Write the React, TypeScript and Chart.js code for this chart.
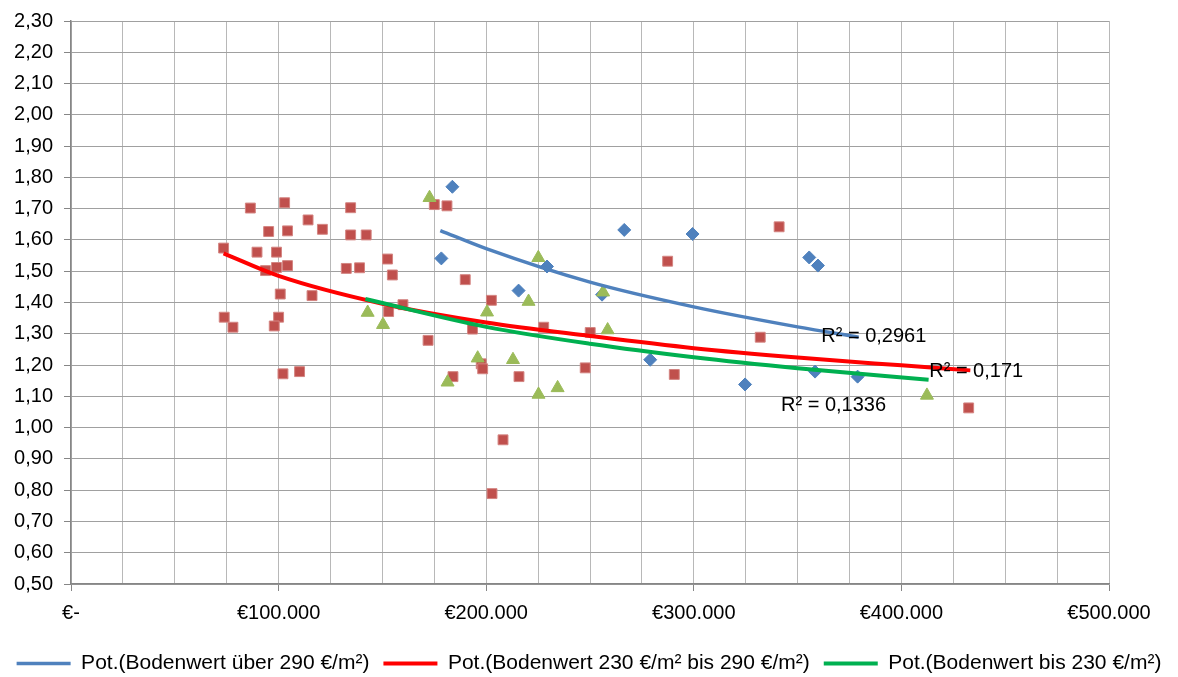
import React, { useEffect, useRef } from "react";
import { Chart, registerables } from "chart.js";

Chart.register(...registerables);

// ---- data ----
const blueX = [183700, 178400, 215600, 229300, 255800, 266500, 299400, 279000, 324700, 355600, 359800, 358400, 378900];
const blueY = [1.77, 1.541, 1.438, 1.515, 1.425, 1.632, 1.619, 1.217, 1.138, 1.544, 1.518, 1.179, 1.163];

const redX = [
  73500, 86400, 102900, 95200, 104300, 114200, 121100, 134700, 134700, 142200,
  89600, 99000, 93700, 99000, 104300, 132600, 139000, 116100, 100800, 152500,
  154800, 73800, 78000, 100000, 97900, 102100, 110100, 153000, 175000, 181100,
  189900, 202500, 159900, 172000, 193400, 184000, 215800, 208100, 202800, 227700,
  250100, 247700, 287400, 290600, 341100, 332000, 432400, 197600, 198300,
];
const redY = [
  1.574, 1.702, 1.719, 1.627, 1.629, 1.664, 1.634, 1.703, 1.616, 1.616,
  1.561, 1.561, 1.502, 1.512, 1.518, 1.509, 1.511, 1.422, 1.427, 1.539,
  1.488, 1.353, 1.321, 1.353, 1.325, 1.172, 1.179, 1.371, 1.713, 1.709,
  1.473, 1.407, 1.393, 1.279, 1.315, 1.163, 1.163, 0.961, 0.789, 1.321,
  1.304, 1.191, 1.532, 1.17, 1.642, 1.289, 1.063, 1.204, 1.188,
];

const greenX = [142900, 150300, 172700, 225100, 220400, 200400, 256300, 258500, 195900, 212900, 181400, 225200, 234400, 412300];
const greenY = [1.368, 1.329, 1.735, 1.543, 1.403, 1.369, 1.433, 1.312, 1.222, 1.217, 1.145, 1.106, 1.127, 1.103];

// trendlines (power)
const blueTrendX = [177900, 200000, 250000, 300000, 350000, 379400];
const blueTrendY = [1.63, 1.572, 1.465, 1.386, 1.322, 1.289];
const redTrendX = [73500, 100000, 150000, 200000, 250000, 300000, 350000, 400000, 433200];
const redTrendY = [1.557, 1.485, 1.396, 1.336, 1.293, 1.254, 1.224, 1.199, 1.183];
const greenTrendX = [141800, 200000, 250000, 300000, 350000, 413100];
const greenTrendY = [1.411, 1.322, 1.268, 1.225, 1.19, 1.153];

const seriesNames = [
  "Pot.(Bodenwert über 290 €/m²)",
  "Pot.(Bodenwert 230 €/m² bis 290 €/m²)",
  "Pot.(Bodenwert bis 230 €/m²)",
];

const r2Texts = ["R² = 0,2961", "R² = 0,171", "R² = 0,1336"];
const r2X = [361400, 413400, 342000];
const r2Y = [1.29, 1.181, 1.071];

const xMin = 0;
const xMax = 500000;
const xStep = 25000;
const xLabelStep = 100000;
const yMin = 0.5;
const yMax = 2.3;
const yStep = 0.1;

const zip = (xs: number[], ys: number[]) => xs.map((x, i) => ({ x, y: ys[i] }));

const fmtEuro = (v: number) => {
  if (v === 0) return "€-";
  return "€" + String(Math.round(v)).replace(/\B(?=(\d{3})+(?!\d))/g, ".");
};

const BLUE = "#4F81BD";
const RED_PT = "#C0504D";
const GREEN_PT = "#9BBB59";
const RED_LINE = "#FF0000";
const GREEN_LINE = "#00B050";
const FONT = "'Liberation Sans', Arial, sans-serif";

const r2Plugin = {
  id: "r2labels",
  afterDatasetsDraw(chart: any) {
    const { ctx, scales } = chart;
    ctx.save();
    ctx.font = `20px ${FONT}`;
    ctx.fillStyle = "#000";
    ctx.textAlign = "left";
    ctx.textBaseline = "middle";
    r2Texts.forEach((t, i) => {
      ctx.fillText(t, scales.x.getPixelForValue(r2X[i]), scales.y.getPixelForValue(r2Y[i]));
    });
    ctx.restore();
  },
};

export default function App() {
  const ref = useRef<HTMLCanvasElement | null>(null);

  useEffect(() => {
    document.body.style.margin = "0";
    if (!ref.current) return;
    Chart.defaults.font.family = FONT;
    Chart.defaults.font.size = 20;
    Chart.defaults.color = "#000";

    const trend = (label: string, xs: number[], ys: number[], color: string, w: number, order: number) => ({
      label,
      data: zip(xs, ys),
      showLine: true,
      borderColor: color,
      backgroundColor: color,
      borderWidth: w,
      pointRadius: 0,
      pointHoverRadius: 0,
      pointStyle: "line",
      cubicInterpolationMode: "monotone",
      order,
    });

    const chart = new Chart(ref.current, {
      type: "scatter",
      data: {
        datasets: [
          trend(seriesNames[0], blueTrendX, blueTrendY, BLUE, 3.5, 2) as any,
          trend(seriesNames[1], redTrendX, redTrendY, RED_LINE, 4, 1) as any,
          trend(seriesNames[2], greenTrendX, greenTrendY, GREEN_LINE, 4, 0) as any,
          {
            label: "Bodenwert über 290 €/m²",
            data: zip(blueX, blueY),
            pointStyle: "rectRot",
            pointRadius: 6.5,
            backgroundColor: BLUE,
            borderColor: BLUE,
            borderWidth: 1,
            order: 5,
          },
          {
            label: "Bodenwert 230 €/m² bis 290 €/m²",
            data: zip(redX, redY),
            pointStyle: "rect",
            pointRadius: 7,
            backgroundColor: RED_PT,
            borderColor: "#D48582",
            borderWidth: 1,
            order: 4,
          },
          {
            label: "Bodenwert bis 230 €/m²",
            data: zip(greenX, greenY),
            pointStyle: "triangle",
            pointRadius: 7.5,
            backgroundColor: GREEN_PT,
            borderColor: GREEN_PT,
            borderWidth: 1,
            order: 3,
          },
        ],
      },
      options: {
        animation: false,
        responsive: true,
        maintainAspectRatio: false,
        layout: { padding: { left: 0, right: 0, top: 16, bottom: -7 } },
        plugins: {
          tooltip: { enabled: false },
          legend: {
            position: "bottom",
            labels: {
              usePointStyle: true,
              pointStyle: "line",
              pointStyleWidth: 54,
              padding: 14,
              color: "#000",
              font: { size: 21, family: FONT },
              filter: (item: any) => item.datasetIndex < 3,
              sort: (a: any, b: any) => a.datasetIndex - b.datasetIndex,
            },
          },
        },
        scales: {
          x: {
            type: "linear",
            min: xMin,
            max: xMax,
            afterFit: (s: any) => {
              s.height = 55;
            },
            ticks: {
              stepSize: xStep,
              autoSkip: false,
              maxRotation: 0,
              padding: 10,
              color: "#000",
              font: { size: 20, family: FONT },
              callback: (v: any) => (Math.round(v) % xLabelStep === 0 ? fmtEuro(Number(v)) : ""),
            },
            grid: {
              color: "#B8B8B8",
              lineWidth: 1,
              tickLength: 7,
              tickColor: (c: any) =>
                c.tick && Math.round(c.tick.value) % xLabelStep === 0 ? "#868686" : "rgba(0,0,0,0)",
            },
            border: { color: "#868686", width: 1.5 },
          },
          y: {
            type: "linear",
            min: yMin,
            max: yMax,
            afterFit: (s: any) => {
              s.width = 71;
            },
            ticks: {
              stepSize: yStep,
              padding: 11,
              color: "#000",
              font: { size: 20, family: FONT, lineHeight: 1 },
              callback: (v: any) => Number(v).toFixed(2).replace(".", ","),
            },
            grid: {
              color: "#A0A0A0",
              lineWidth: 1,
              tickLength: 7,
              tickColor: "#868686",
            },
            border: { color: "#868686", width: 1.5 },
          },
          yRightSpace: {
            type: "linear",
            position: "right",
            display: true,
            min: 0,
            max: 1,
            ticks: { display: false },
            grid: { display: false, drawTicks: false },
            border: { display: false },
            afterFit: (s: any) => {
              s.width = 69;
            },
          },
        },
      },
      plugins: [r2Plugin],
    } as any);

    return () => chart.destroy();
  }, []);

  return (
    <div style={{ width: 1178, height: 677, position: "relative" }}>
      <canvas ref={ref} />
    </div>
  );
}
